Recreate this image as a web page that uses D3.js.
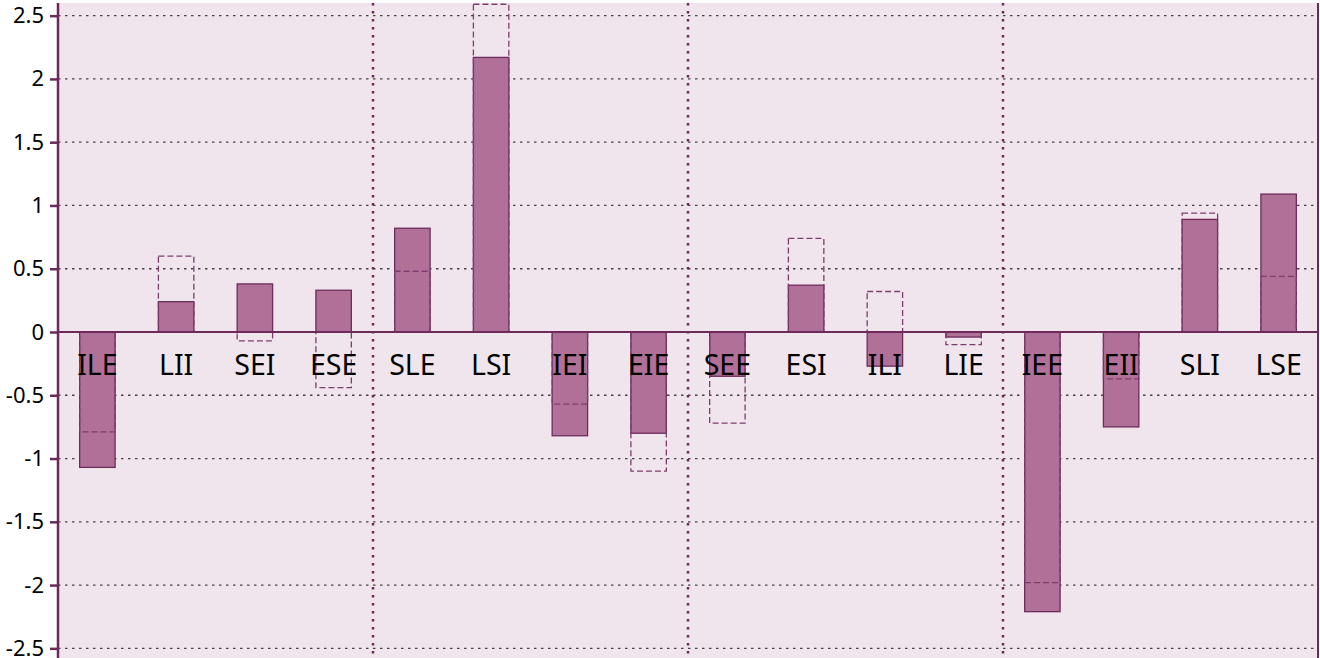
<!DOCTYPE html>
<html>
<head>
<meta charset="utf-8">
<script src="https://cdn.jsdelivr.net/npm/d3@7"></script>
<style>
  html, body { margin: 0; padding: 0; background: #fff; }
  svg { display: block; }
</style>
</head>
<body>
<svg id="chart"></svg>
<script>
const categories = ['ILE', 'LII', 'SEI', 'ESE', 'SLE', 'LSI', 'IEI', 'EIE', 'SEE', 'ESI', 'ILI', 'LIE', 'IEE', 'EII', 'SLI', 'LSE'];
const values = [-1.07, 0.24, 0.38, 0.33, 0.82, 2.17, -0.82, -0.80, -0.35, 0.37, -0.27, -0.04, -2.21, -0.75, 0.89, 1.09];
const refValues = [-0.79, 0.60, -0.07, -0.44, 0.48, 2.59, -0.57, -1.10, -0.72, 0.74, 0.32, -0.10, -1.98, -0.37, 0.94, 0.44];
const yTicks = [-2.5, -2, -1.5, -1, -0.5, 0, 0.5, 1, 1.5, 2, 2.5];
const groupBreaks = [4, 8, 12];

const width = 1320, height = 658;
const plotLeft = 58, plotRight = 1318, plotTop = 3, plotBottom = 661;

const svg = d3.select('#chart').attr('width', width).attr('height', height);

const x = d3.scaleBand().domain(categories).range([plotLeft, plotRight]).paddingInner(0.55).paddingOuter(0.275);
const y = d3.scaleLinear().domain([-2.6, 2.6]).range([plotBottom, plotTop]);
const step = x.step();

// BACKGROUND
svg.append('rect')
  .attr('x', plotLeft).attr('y', plotTop)
  .attr('width', plotRight - plotLeft).attr('height', plotBottom - plotTop)
  .attr('fill', '#f0e5ec');

// GRID
svg.append('g')
  .selectAll('line')
  .data(yTicks)
  .join('line')
  .attr('x1', plotLeft).attr('x2', plotRight)
  .attr('y1', (d) => y(d)).attr('y2', (d) => y(d))
  .attr('stroke', '#444')
  .attr('stroke-width', 1.3)
  .attr('stroke-dasharray', '2.5,4.5');

svg.append('g')
  .selectAll('line')
  .data(groupBreaks)
  .join('line')
  .attr('x1', (d) => plotLeft + d * step).attr('x2', (d) => plotLeft + d * step)
  .attr('y1', plotTop).attr('y2', height)
  .attr('stroke', '#6b2a5a')
  .attr('stroke-width', 2.5)
  .attr('stroke-dasharray', '2.5,5.5');

// BARS
svg.append('g')
  .selectAll('rect')
  .data(values)
  .join('rect')
  .attr('x', (d, i) => x(categories[i]))
  .attr('width', x.bandwidth())
  .attr('y', (d) => y(Math.max(0, d)))
  .attr('height', (d) => Math.abs(y(d) - y(0)))
  .attr('fill', '#b07098')
  .attr('stroke', '#6e2c5c')
  .attr('stroke-width', 1.3);

svg.append('g')
  .selectAll('rect')
  .data(refValues)
  .join('rect')
  .attr('x', (d, i) => x(categories[i]))
  .attr('width', x.bandwidth())
  .attr('y', (d) => y(Math.max(0, d)))
  .attr('height', (d) => Math.abs(y(d) - y(0)))
  .attr('fill', 'none')
  .attr('stroke', '#7e3d6c')
  .attr('stroke-width', 1.3)
  .attr('stroke-dasharray', '6,3');

// ZERO LINE + BORDERS
svg.append('line')
  .attr('x1', plotLeft).attr('x2', plotRight)
  .attr('y1', y(0)).attr('y2', y(0))
  .attr('stroke', '#6b2a5a').attr('stroke-width', 2.2);

svg.append('line')
  .attr('x1', plotRight).attr('x2', plotRight)
  .attr('y1', plotTop).attr('y2', height)
  .attr('stroke', '#6b2a5a').attr('stroke-width', 2);

// Y AXIS
const yAxis = svg.append('g')
  .attr('transform', `translate(${plotLeft},0)`)
  .call(d3.axisLeft(y).tickValues(yTicks).tickSize(8).tickPadding(6).tickFormat((d) => String(d)));

yAxis.select('.domain')
  .attr('d', `M0,${plotTop}V${height}`)
  .attr('stroke', '#6b2a5a').attr('stroke-width', 2.5);
yAxis.selectAll('.tick line').attr('stroke', '#6b2a5a').attr('stroke-width', 2.5);
yAxis.selectAll('.tick text')
  .attr('fill', '#000')
  .attr('font-family', 'Noto Sans, sans-serif')
  .attr('font-size', 22);

// CATEGORY LABELS
svg.append('g')
  .selectAll('text')
  .data(categories)
  .join('text')
  .attr('x', (d) => x(d) + x.bandwidth() / 2)
  .attr('y', y(0) + 43)
  .attr('text-anchor', 'middle')
  .attr('font-family', 'Noto Sans, sans-serif')
  .attr('font-size', 28.5)
  .attr('fill', '#000')
  .text((d) => d);
</script>
</body>
</html>
